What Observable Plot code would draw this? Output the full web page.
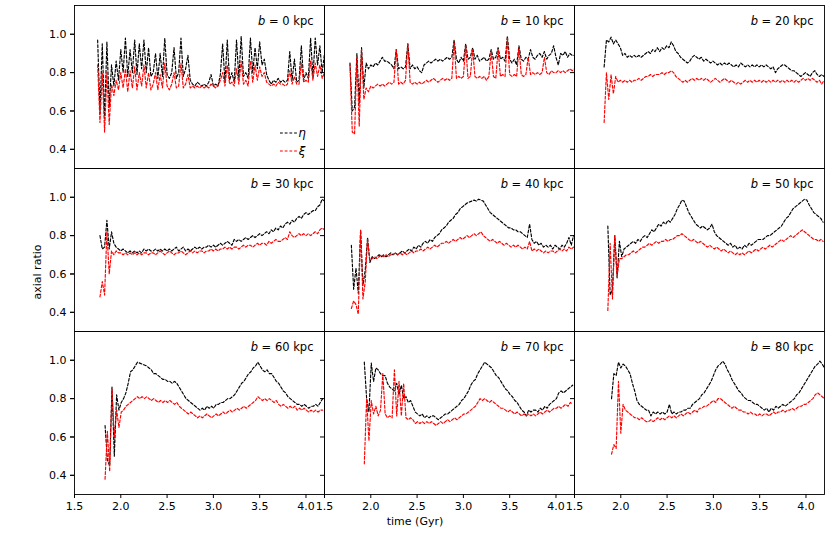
<!DOCTYPE html>
<html><head><meta charset="utf-8">
<script src="https://cdn.jsdelivr.net/npm/d3@7"></script>
<script src="https://cdn.jsdelivr.net/npm/@observablehq/plot@0.6"></script>
<style>body{margin:0;background:#fff;} #chart{width:830px;height:545px;}</style>
</head><body><div id="chart"></div>
<script>
const bValues = [0, 10, 20, 30, 40, 50, 60, 70, 80];
const tStart = [1.75, 1.775, 1.82, 1.775, 1.79, 1.86, 1.83, 1.93, 1.90];
const dt = 0.025;
const xTicks = [1.5, 2.0, 2.5, 3.0, 3.5, 4.0];
const yTicks = [0.4, 0.6, 0.8, 1.0];

const eta0 = [.97,.60,.95,.56,.96,.62,.84,.73,.86,.76, .92,.80,.98,.78,.92,.80,.97,.79,.95,.82, .97,.80,.93,.78,.80,.90,.77,.90,.78,.98, .79,.77,.80,.93,.77,.80,.98,.78,.82,.89, .76,.74,.73,.75,.74,.73,.74,.73,.75,.79, .73,.74,.73,.79,.95,.75,.97,.76,.80,.75, .97,.77,.99,.78,.80,.77,.98,.80,.93,.82, .96,.84,.87,.79,.76,.74,.76,.75,.77,.75, .76,.75,.76,.91,.76,.87,.75,.76,.94,.76, .80,.77,.98,.78,.98,.84,.94,.80,.90];
const xi0 = [.84,.54,.80,.49,.80,.53,.74,.68,.76,.71, .80,.72,.82,.70,.81,.72,.83,.71,.80,.73, .84,.72,.80,.71,.74,.80,.71,.79,.72,.85, .73,.71,.74,.80,.72,.73,.85,.72,.74,.79, .72,.73,.72,.73,.72,.73,.72,.73,.72,.74, .73,.72,.73,.76,.80,.73,.84,.74,.75,.73, .82,.74,.86,.74,.76,.73,.86,.75,.84,.76, .83,.78,.80,.75,.74,.73,.74,.73,.75,.74, .74,.73,.74,.81,.74,.78,.74,.74,.85,.75, .76,.75,.86,.76,.85,.78,.84,.77,.80];

const eta10 = [.85,.60,.62,.90,.64,.93,.72,.85,.82,.84, .83,.85,.84,.86,.88,.86,.86,.85,.84,.82, .92,.82,.83,.82,.83,.95,.82,.84,.82,.83, .81,.80,.84,.85,.86,.85,.86,.87,.86,.87, .86,.87,.88,.87,.88,.97,.87,.85,.88,.86, .95,.87,.88,.93,.87,.89,.86,.87,.88,.86, .87,.92,.87,.88,.93,.87,.88,.86,.99,.87, .85,.87,.84,.94,.87,.86,.88,.87,.92,.88, .87,.89,.90,.88,.91,.87,.89,.90,.94,.88, .84,.90,.89,.91,.88,.90,.89,.89];
const xi10 = [.84,.49,.48,.88,.52,.92,.66,.72,.70,.73, .72,.73,.74,.73,.74,.73,.74,.75,.74,.75, .92,.74,.75,.74,.76,.95,.75,.74,.75,.74, .75,.74,.75,.76,.75,.76,.77,.76,.75,.76, .77,.76,.77,.76,.77,.96,.77,.78,.77,.78, .94,.77,.78,.92,.78,.77,.78,.77,.78,.76, .78,.91,.78,.77,.92,.78,.79,.78,.98,.79, .78,.79,.78,.93,.79,.78,.79,.88,.79,.80, .79,.80,.79,.80,.88,.80,.79,.81,.80,.80, .81,.80,.81,.80,.81,.82,.81,.82];

const eta20 = [.83,.97,.96,.985,.95,.97,.95,.93,.89,.90, .88,.89,.88,.89,.88,.89,.88,.89,.90,.91, .90,.92,.91,.93,.91,.93,.92,.94,.93,.96, .94,.91,.90,.88,.87,.86,.85,.86,.88,.89, .88,.87,.88,.86,.87,.86,.85,.86,.85,.84, .85,.84,.85,.84,.85,.84,.83,.84,.83,.85, .84,.83,.84,.83,.84,.83,.84,.83,.84,.83, .84,.83,.82,.83,.80,.82,.83,.84,.84,.83, .82,.81,.81,.80,.79,.78,.79,.80,.79,.78, .80,.81,.79,.78,.79,.78];
const xi20 = [.54,.80,.66,.79,.69,.78,.75,.76,.75,.76, .75,.76,.75,.76,.76,.77,.76,.77,.78,.78, .79,.78,.79,.79,.79,.80,.79,.80,.80,.81, .80,.78,.77,.76,.75,.76,.75,.76,.77,.76, .77,.76,.77,.76,.77,.76,.75,.76,.77,.76, .75,.76,.77,.76,.75,.76,.75,.74,.75,.74, .75,.76,.75,.76,.75,.76,.75,.76,.75,.76, .75,.76,.75,.76,.75,.76,.75,.76,.75,.76, .75,.76,.75,.76,.75,.76,.77,.76,.77,.76, .77,.76,.75,.76,.74,.76];

const eta30 = [.80,.73,.74,.88,.73,.82,.76,.74,.73,.72, .73,.72,.71,.72,.71,.72,.71,.72,.71,.73, .72,.73,.72,.72,.73,.72,.73,.72,.73,.72, .73,.72,.73,.74,.72,.73,.74,.72,.73,.72, .73,.74,.73,.74,.73,.74,.74,.75,.74,.75, .74,.75,.76,.75,.76,.77,.76,.75,.78,.77, .78,.77,.78,.79,.78,.79,.80,.79,.80,.81, .80,.81,.82,.81,.83,.82,.84,.83,.85,.84, .86,.87,.86,.88,.87,.89,.90,.89,.91,.92, .91,.92,.93,.93,.95,.96,.99,.98];
const xi30 = [.48,.56,.49,.82,.60,.72,.70,.72,.71,.71, .70,.71,.70,.71,.70,.71,.70,.71,.70,.71, .71,.70,.71,.71,.70,.71,.72,.71,.70,.71, .72,.71,.70,.71,.71,.72,.71,.70,.71,.72, .71,.72,.71,.72,.72,.71,.72,.72,.73,.72, .73,.72,.73,.73,.74,.73,.74,.73,.74,.74, .73,.74,.75,.74,.75,.75,.74,.75,.76,.75, .76,.76,.75,.77,.76,.77,.78,.77,.77,.78, .79,.78,.82,.80,.79,.80,.81,.80,.81,.80, .81,.80,.81,.82,.81,.83,.84,.83];

const eta40 = [.75,.52,.63,.50,.83,.54,.62,.79,.66,.69, .68,.69,.70,.69,.70,.69,.70,.71,.70,.71, .70,.71,.72,.71,.72,.73,.72,.74,.73,.75, .74,.76,.77,.76,.78,.77,.79,.80,.81,.83, .84,.85,.87,.88,.89,.91,.92,.94,.95,.96, .97,.975,.98,.985,.98,.99,.985,.98,.96,.94, .92,.91,.90,.89,.88,.87,.86,.85,.84,.84, .83,.83,.82,.82,.81,.80,.79,.86,.78,.76, .77,.75,.76,.74,.75,.74,.75,.73,.75,.74, .73,.75,.74,.76,.79,.75,.80];
const xi40 = [.42,.46,.44,.39,.83,.47,.56,.78,.67,.68, .69,.68,.69,.70,.69,.70,.69,.70,.70,.71, .70,.71,.70,.71,.70,.71,.72,.71,.72,.72, .73,.72,.73,.74,.73,.74,.75,.74,.75,.76, .76,.77,.76,.77,.78,.77,.78,.79,.78,.79, .80,.79,.80,.81,.80,.81,.82,.80,.79,.78, .77,.78,.77,.76,.77,.76,.75,.76,.75,.74, .75,.74,.75,.74,.73,.74,.73,.77,.72,.73, .72,.73,.72,.71,.72,.71,.72,.72,.71,.72, .73,.72,.73,.72,.74,.73,.74];

const eta50 = [.85,.49,.52,.80,.58,.77,.69,.73,.74,.75, .76,.77,.76,.78,.77,.79,.80,.79,.81,.83, .82,.84,.86,.85,.87,.86,.88,.87,.89,.91, .94,.96,.985,.98,.95,.92,.90,.88,.86,.85, .84,.85,.84,.83,.84,.86,.82,.80,.79,.78, .77,.76,.75,.76,.74,.75,.73,.74,.73,.75, .74,.76,.75,.76,.77,.78,.78,.78,.79,.80, .80,.81,.82,.83,.84,.85,.87,.89,.90,.92, .94,.95,.96,.97,.98,.99,.985,.96,.94,.92, .91,.90,.89,.87];
const xi50 = [.41,.76,.47,.80,.59,.68,.68,.69,.70,.70, .71,.72,.71,.72,.73,.74,.74,.75,.76,.75, .76,.77,.76,.77,.77,.78,.77,.78,.78,.79, .80,.80,.81,.80,.79,.78,.77,.78,.77,.76, .77,.76,.75,.74,.75,.74,.73,.74,.73,.72, .73,.72,.71,.72,.71,.70,.71,.70,.71,.70, .71,.72,.71,.72,.73,.72,.73,.74,.73,.74, .75,.74,.75,.76,.77,.78,.77,.78,.79,.80, .79,.80,.81,.82,.83,.82,.81,.80,.79,.78, .78,.77,.78,.77];

const eta60 = [.66,.48,.45,.86,.50,.82,.74,.78,.80,.83, .88,.94,.95,.97,.99,.985,.98,.975,.97,.96, .95,.93,.93,.92,.91,.90,.90,.89,.89,.88, .89,.88,.86,.84,.82,.80,.79,.78,.77,.76, .75,.74,.75,.74,.76,.75,.76,.75,.77,.77, .78,.78,.79,.80,.80,.81,.82,.84,.86,.88, .89,.91,.93,.94,.96,.97,.99,.97,.95,.94, .95,.93,.93,.91,.89,.88,.86,.84,.83,.81, .80,.79,.78,.77,.77,.76,.77,.76,.75,.76, .76,.77,.76,.78,.80];
const xi60 = [.38,.63,.42,.85,.60,.74,.65,.73,.74,.76, .77,.78,.79,.80,.81,.80,.81,.80,.81,.80, .79,.80,.79,.78,.79,.78,.79,.78,.79,.78, .77,.78,.76,.75,.74,.73,.72,.73,.72,.71, .70,.71,.70,.71,.72,.71,.70,.71,.72,.71, .72,.73,.72,.73,.74,.73,.74,.75,.74,.75, .76,.75,.76,.77,.78,.79,.81,.80,.79,.80, .79,.80,.79,.78,.79,.77,.76,.77,.76,.75, .76,.75,.76,.74,.75,.74,.75,.74,.73,.74, .73,.74,.73,.74,.74];

const eta70 = [.99,.80,.73,.985,.89,.96,.95,.93,.92,.92, .88,.86,.85,.84,.88,.82,.87,.80,.81,.78, .79,.76,.73,.72,.71,.72,.70,.71,.70,.71, .71,.70,.69,.70,.71,.72,.72,.73,.74,.75, .76,.77,.79,.80,.82,.84,.87,.89,.90,.93, .95,.97,.99,.98,.97,.96,.94,.92,.91,.89, .87,.85,.84,.82,.81,.79,.78,.76,.74,.73, .71,.74,.73,.74,.74,.73,.75,.74,.76,.75, .77,.78,.79,.80,.83,.84,.83,.84,.85,.86, .87];
const xi70 = [.46,.80,.58,.79,.72,.76,.71,.74,.93,.72, .70,.71,.70,.95,.71,.89,.71,.88,.70,.69, .70,.69,.67,.68,.67,.68,.67,.68,.67,.68, .67,.66,.67,.68,.67,.68,.69,.68,.69,.70, .69,.70,.71,.72,.72,.73,.74,.75,.76,.78, .80,.79,.80,.79,.78,.79,.78,.77,.76,.75, .75,.74,.73,.74,.73,.72,.73,.72,.71,.72, .71,.72,.71,.72,.71,.72,.73,.72,.73,.74, .73,.74,.75,.75,.76,.75,.76,.77,.76,.78, .77];

const eta80 = [.80,.93,.92,.99,.96,.98,.97,.95,.93,.88, .84,.79,.77,.76,.75,.74,.74,.71,.73,.72, .73,.72,.73,.72,.73,.77,.72,.73,.72,.73, .73,.74,.74,.75,.75,.77,.78,.79,.80,.82, .83,.85,.87,.89,.92,.95,.97,.98,.995,.98, .95,.93,.90,.88,.86,.84,.83,.81,.80,.79, .79,.78,.77,.77,.76,.75,.74,.75,.73,.75, .74,.76,.75,.76,.77,.76,.77,.78,.79,.80, .82,.83,.85,.87,.89,.91,.93,.95,.97,.98, .995,.98,.96];
const xi80 = [.51,.56,.54,.89,.62,.77,.74,.73,.72,.71, .70,.70,.69,.70,.69,.68,.68,.69,.68,.69, .70,.69,.70,.69,.70,.71,.70,.71,.70,.71, .72,.71,.72,.73,.72,.73,.74,.73,.75,.75, .76,.76,.77,.78,.79,.78,.80,.80,.79,.78, .77,.76,.75,.76,.75,.74,.74,.73,.73,.72, .73,.72,.72,.71,.72,.71,.72,.72,.71,.72, .73,.72,.73,.73,.74,.73,.74,.74,.75,.74, .75,.76,.76,.77,.77,.78,.79,.80,.82,.83, .82,.81,.80];

const etaSeries = [eta0, eta10, eta20, eta30, eta40, eta50, eta60, eta70, eta80];
const xiSeries = [xi0, xi10, xi20, xi30, xi40, xi50, xi60, xi70, xi80];

const etaRows = [], xiRows = [];
bValues.forEach((b, k) => {
  const col = k % 3, row = Math.floor(k / 3);
  etaSeries[k].forEach((v, i) => etaRows.push({col, row, t: tStart[k] + i * dt, v}));
  xiSeries[k].forEach((v, i) => xiRows.push({col, row, t: tStart[k] + i * dt, v}));
});
const labels = bValues.map((b, k) => ({col: k % 3, row: Math.floor(k / 3), label: `b = ${b} kpc`}));

const dash = "2.8,1.9";
const lw = 1.15;
const fmt = d3.format(".1f");

const svg = Plot.plot({
  width: 830, height: 545,
  marginLeft: 74, marginRight: 6, marginTop: 5, marginBottom: 51,
  style: {fontFamily: "DejaVu Sans", fontSize: "11px", background: "white", color: "black", overflow: "visible"},
  fx: {domain: [0, 1, 2], padding: 0, axis: null, round: false},
  fy: {domain: [0, 1, 2], padding: 0, axis: null, round: false},
  x: {domain: [1.5, 4.2]},
  y: {domain: [0.3, 1.15]},
  marks: [
    Plot.line(etaRows, {x: "t", y: "v", fx: "col", fy: "row", stroke: "black", strokeWidth: lw, strokeDasharray: dash}),
    Plot.line(xiRows, {x: "t", y: "v", fx: "col", fy: "row", stroke: "red", strokeWidth: lw, strokeDasharray: dash}),
    Plot.frame({stroke: "black", strokeWidth: 0.9}),
    Plot.axisX({ticks: xTicks, tickFormat: fmt, tickSize: 4, tickPadding: 4, label: null}),
    Plot.axisY({ticks: yTicks, tickFormat: fmt, tickSize: 4, tickPadding: 4, label: null}),
    Plot.axisY({ticks: yTicks, tickSize: 4, fill: "none", facetAnchor: null, label: null}),
    Plot.text(labels, {fx: "col", fy: "row", text: "label", frameAnchor: "top-right", dx: -11, dy: 11, lineAnchor: "top", fontSize: 11.5, fill: "black"})
  ]
});

// italic "b" in panel labels (math style)
d3.select(svg).selectAll('g[aria-label="text"] text').each(function() {
  const s = this.textContent;
  const rest = s.slice(1);
  const el = d3.select(this);
  el.text(null);
  el.append("tspan").attr("font-style", "italic").text("b");
  el.append("tspan").text(rest);
});

const S = d3.select(svg);
// axis titles
S.append("text").attr("x", 415).attr("y", 525).attr("text-anchor", "middle")
  .attr("font-size", 11).attr("fill", "black").text("time (Gyr)");
S.append("text").attr("transform", "translate(40.5,272) rotate(-90)").attr("text-anchor", "middle")
  .attr("font-size", 11).attr("fill", "black").text("axial ratio");

// legend in first panel
const leg = S.append("g").attr("font-size", 12).attr("font-style", "italic");
[["η", "black", 133], ["ξ", "red", 151]].forEach(([name, color, y]) => {
  leg.append("line").attr("x1", 280).attr("x2", 297).attr("y1", y).attr("y2", y)
    .attr("stroke", color).attr("stroke-width", lw).attr("stroke-dasharray", dash);
  leg.append("text").attr("x", 302).attr("y", y).attr("dy", "0.35em").attr("fill", "black").text(name);
});

document.getElementById("chart").appendChild(svg);
</script>
</body></html>
